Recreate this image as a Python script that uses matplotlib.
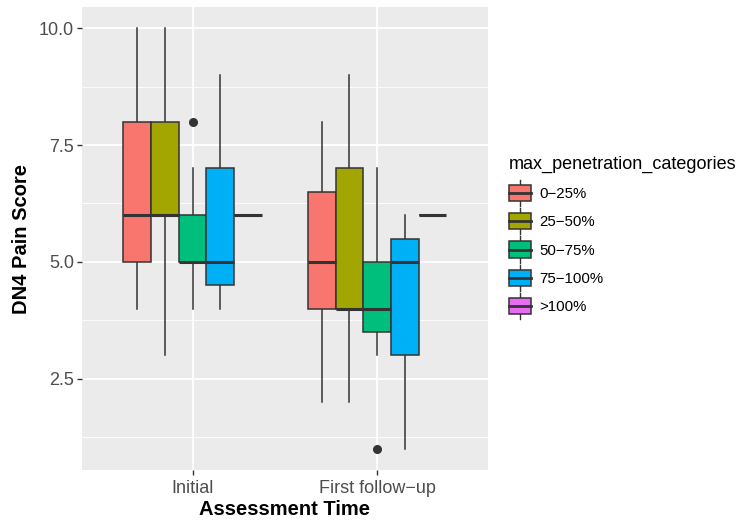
import matplotlib
matplotlib.use("Agg")
import matplotlib.pyplot as plt
from matplotlib.patches import Rectangle
from matplotlib.lines import Line2D
from matplotlib.legend_handler import HandlerBase

plt.rcParams['font.family'] = ['Liberation Sans', 'DejaVu Sans']

# ---- data ----
times = ["Initial", "First follow\u2212up"]
categories = ["0\u221225%", "25\u221250%", "50\u221275%", "75\u2212100%", ">100%"]
colors = ["#F8766D", "#A3A500", "#00BF7D", "#00B0F6", "#E76BF3"]

# per time: list over categories of (whislo, q1, med, q3, whishi)
initial_stats = [
    (4, 5, 6, 8, 10),
    (3, 6, 6, 8, 10),
    (4, 5, 5, 6, 7),
    (4, 4.5, 5, 7, 9),
    (6, 6, 6, 6, 6),
]
initial_outliers = [[], [], [8], [], []]

followup_stats = [
    (2, 4, 5, 6.5, 8),
    (2, 4, 4, 7, 9),
    (3, 3.5, 4, 5, 7),
    (1, 3, 5, 5.5, 6),
    (6, 6, 6, 6, 6),
]
followup_outliers = [[], [], [1], [], []]

yticks = [2.5, 5.0, 7.5, 10.0]
yticklabels = ["2.5", "5.0", "7.5", "10.0"]
minor_y = [1.25, 3.75, 6.25, 8.75]

# ---- figure ----
fig = plt.figure(figsize=(7.37, 5.2), dpi=100)
ax = fig.add_axes([0.111, 0.096, 0.551, 0.8905])
ax.set_facecolor("#EBEBEB")
for s in ax.spines.values():
    s.set_visible(False)

edge = "#333333"
all_stats = [initial_stats, followup_stats]
all_out = [initial_outliers, followup_outliers]
dodge = 0.15
for ti, (stats, outs) in enumerate(zip(all_stats, all_out)):
    for ci, (st, fl) in enumerate(zip(stats, outs)):
        pos = ti + 1 + (ci - 2) * dodge
        d = dict(whislo=st[0], q1=st[1], med=st[2], q3=st[3], whishi=st[4], fliers=fl)
        bp = ax.bxp([d], positions=[pos], widths=dodge, patch_artist=True,
                    showcaps=False, manage_ticks=False,
                    boxprops=dict(facecolor=colors[ci], edgecolor=edge, linewidth=1.1),
                    whiskerprops=dict(color=edge, linewidth=1.1),
                    medianprops=dict(color=edge, linewidth=2.2, solid_capstyle='butt'),
                    flierprops=dict(marker='o', markerfacecolor=edge, markeredgecolor=edge,
                                    markersize=5.5, linestyle='none'))
        for b in bp['boxes']:
            b.set_zorder(3)
        for m in bp['medians']:
            m.set_zorder(4)
        for w in bp['whiskers']:
            w.set_zorder(2)

ax.set_xlim(0.4, 2.6)
ax.set_ylim(0.55, 10.45)
ax.set_xticks([1, 2])
ax.set_xticklabels(times)
ax.set_yticks(yticks)
ax.set_yticklabels(yticklabels)
ax.set_yticks(minor_y, minor=True)
ax.grid(True, which='major', color='white', linewidth=1.3, zorder=0)
ax.grid(True, which='minor', axis='y', color='white', linewidth=0.6, zorder=0)
ax.set_axisbelow(True)
ax.tick_params(axis='both', which='major', length=3.5, width=1.0, color=edge,
               labelcolor="#4D4D4D", labelsize=13, pad=2)
ax.tick_params(axis='x', which='major', pad=4)
ax.tick_params(axis='y', which='minor', length=0)

ax.set_xlabel("Assessment Time", fontsize=14.5, fontweight='bold', color='black', labelpad=2)
ax.set_ylabel("DN4 Pain Score", fontsize=14.5, fontweight='bold', color='black', labelpad=6)


# ---- legend with boxplot-style keys ----
class BoxKeyHandler(HandlerBase):
    def __init__(self, color):
        super().__init__()
        self.color = color

    def create_artists(self, legend, orig_handle, xdescent, ydescent, width, height,
                       fontsize, trans):
        x0, y0 = -xdescent, -ydescent
        cx = x0 + width / 2
        art = []
        art.append(Line2D([cx, cx], [y0 - height * 0.3, y0 + height * 1.3],
                          color=edge, linewidth=1.0, transform=trans))
        art.append(Rectangle((x0, y0), width, height, facecolor=self.color,
                             edgecolor=edge, linewidth=1.1, transform=trans))
        art.append(Line2D([x0, x0 + width], [y0 + height / 2, y0 + height / 2],
                          color=edge, linewidth=2.0, transform=trans))
        return art


handles = [Rectangle((0, 0), 1, 1) for _ in categories]
handler_map = {h: BoxKeyHandler(c) for h, c in zip(handles, colors)}
leg = fig.legend(handles, categories, handler_map=handler_map,
                 loc='upper left', bbox_to_anchor=(0.690, 0.701),
                 title="max_penetration_categories", title_fontsize=13,
                 fontsize=10.8, frameon=False, alignment='left',
                 handlelength=1.5, handleheight=1.3, handletextpad=0.55,
                 labelspacing=0.8, borderaxespad=0, borderpad=0)
for t in leg.get_texts():
    t.set_color('black')

fig.savefig("out.png", dpi=100)
